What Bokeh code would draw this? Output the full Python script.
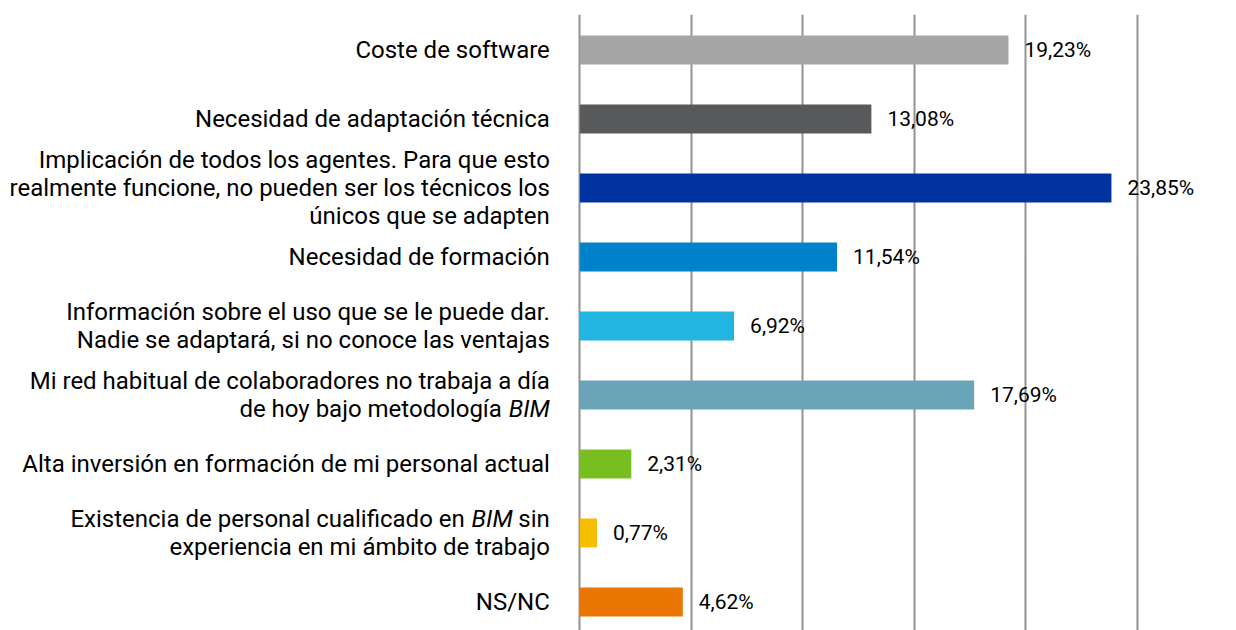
from bokeh.plotting import figure
from bokeh.models import Range1d, Grid, FixedTicker, ColumnDataSource
from bokeh.core.properties import value
from bokeh.embed import file_html
from bokeh.resources import INLINE

# ---- data ----
categories = [
    "Coste de software",
    "Necesidad de adaptación técnica",
    "Implicación de todos los agentes. Para que esto\nrealmente funcione, no pueden ser los técnicos los\núnicos que se adapten",
    "Necesidad de formación",
    "Información sobre el uso que se le puede dar.\nNadie se adaptará, si no conoce las ventajas",
    "Mi red habitual de colaboradores no trabaja a día\nde hoy bajo metodología *BIM*",
    "Alta inversión en formación de mi personal actual",
    "Existencia de personal cualificado en *BIM* sin\nexperiencia en mi ámbito de trabajo",
    "NS/NC",
]
values = [19.23, 13.08, 23.85, 11.54, 6.92, 17.69, 2.31, 0.77, 4.62]
colors = ["#A5A5A5", "#58595B", "#0033A0", "#0082CA", "#22B5E2",
          "#6AA4B8", "#78BE20", "#F6BE00", "#E87600"]
grid_ticks = [0, 5, 10, 15, 20, 25]

FONT = "Roboto"
LABEL_PX = 24
VALUE_PX = 21
LINE_PX = 28

# approximate Roboto advance widths (units per em = 2048) for right-side pieces
REG_W = {" ": 507, "s": 1056, "i": 496, "n": 1105}
ITA_W = {"B": 1265, "I": 555, "M": 1767}


def text_width(s, italic=False):
    table = ITA_W if italic else REG_W
    return sum(table.get(c, 1100) for c in s) / 2048 * LABEL_PX


n = len(categories)
idx = list(range(n))

p = figure(width=1236, height=630, output_backend="svg", toolbar_location=None,
           x_axis_location=None, y_axis_location=None,
           x_range=Range1d(-25.99, 29.46), y_range=Range1d(8.414, -0.514),
           min_border_left=0, min_border_right=0, min_border_top=14,
           min_border_bottom=0)
p.outline_line_color = None
p.background_fill_color = "white"
p.border_fill_color = "white"
p.grid.visible = False

p.add_layout(Grid(dimension=0, ticker=FixedTicker(ticks=grid_ticks),
                  grid_line_color="#929292", grid_line_width=2))

bars = ColumnDataSource(dict(y=idx, v=values, c=colors,
                             t=[f"{v:.2f}".replace(".", ",") + "%" for v in values]))
p.hbar(y="y", left=0, right="v", height=0.42, fill_color="c", line_color=None,
       source=bars)
p.text(x="v", y="y", text="t", source=bars, x_offset=16, text_align="left",
       text_baseline="middle", text_font=value(FONT),
       text_font_size=f"{VALUE_PX}px", text_color="#000000")

# category labels (with italic runs marked by *...*)
px, py, pt, pxo, pyo, pit = [], [], [], [], [], []
for i, lab in enumerate(categories):
    lines = lab.split("\n")
    nl = len(lines)
    for j, line in enumerate(lines):
        yoff = (j - (nl - 1) / 2) * LINE_PX
        parts = line.split("*")
        right = -30.0
        for k in range(len(parts) - 1, -1, -1):
            seg = parts[k]
            italic = (k % 2 == 1)
            if seg == "":
                continue
            body = seg.strip(" ")
            trail = len(seg) - len(seg.rstrip(" "))
            lead = len(seg) - len(seg.lstrip(" "))
            right -= trail * text_width(" ")
            if body:
                px.append(0); py.append(i); pt.append(body)
                pxo.append(right); pyo.append(yoff); pit.append(italic)
                right -= text_width(body, italic)
            right -= lead * text_width(" ")

for it, style in ((False, "normal"), (True, "italic")):
    sel = [m for m in range(len(pt)) if pit[m] == it]
    src = ColumnDataSource(dict(x=[px[m] for m in sel], y=[py[m] for m in sel],
                                t=[pt[m] for m in sel], xo=[pxo[m] for m in sel],
                                yo=[pyo[m] for m in sel]))
    p.text(x="x", y="y", text="t", x_offset="xo", y_offset="yo", source=src,
           text_align="right", text_baseline="middle", text_font=value(FONT),
           text_font_size=f"{LABEL_PX}px", text_font_style=style,
           text_color="#000000")

open("out.html", "w").write(file_html(p, INLINE))
